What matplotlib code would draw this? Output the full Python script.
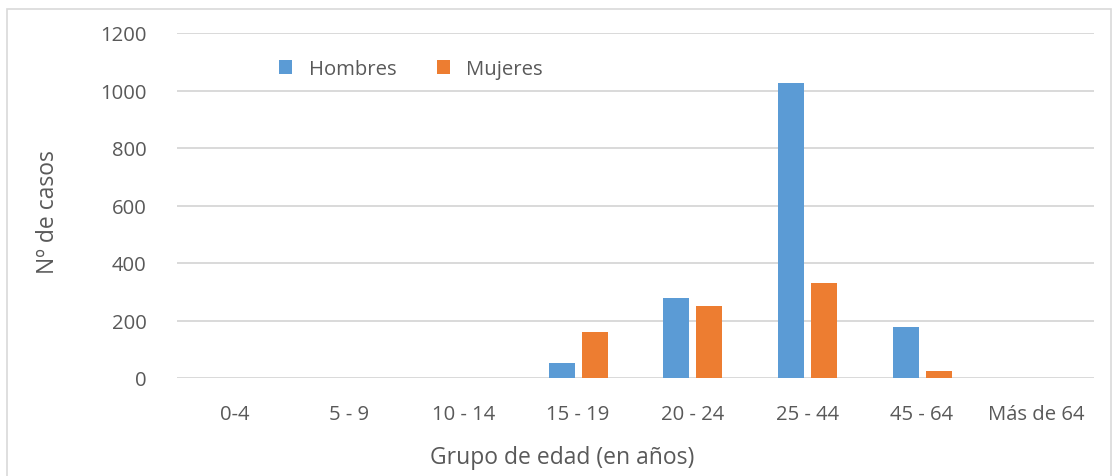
import matplotlib
matplotlib.use("Agg")
import matplotlib.pyplot as plt
import numpy as np
from matplotlib.patches import Rectangle

categories = ["0-4", "5 - 9", "10 - 14", "15 - 19", "20 - 24", "25 - 44", "45 - 64", "Más de 64"]
hombres = [0, 0, 0, 52, 280, 1025, 178, 0]
mujeres = [0, 0, 0, 160, 251, 330, 24, 0]
yticks = [0, 200, 400, 600, 800, 1000, 1200]

blue = "#5b9bd5"
orange = "#ed7d31"
text_color = "#595959"
grid_color = "#d9d9d9"

plt.rcParams["font.family"] = ["Open Sans", "DejaVu Sans"]

fig = plt.figure(figsize=(11.15, 4.77), dpi=100)
ax = fig.add_axes([177 / 1115, 1 - 379 / 477, (1094 - 177) / 1115, (379 - 34) / 477])

x = np.arange(len(categories))
w = 0.227
off = 0.1435
ax.bar(x - off, hombres, w, color=blue, label="Hombres", zorder=3)
ax.bar(x + off, mujeres, w, color=orange, label="Mujeres", zorder=3)

ax.set_xlim(-0.5, len(categories) - 0.5)
ax.set_ylim(0, 1200)
ax.set_yticks(yticks)
ax.set_yticklabels([str(v) for v in yticks])
ax.set_xticks(x)
ax.set_xticklabels(categories)
ax.tick_params(axis="both", length=0, labelsize=14.6, colors=text_color)
ax.tick_params(axis="y", pad=22)
ax.tick_params(axis="x", pad=19)
ax.grid(axis="y", color=grid_color, linewidth=1.4, zorder=0)
for s in ax.spines.values():
    s.set_visible(False)

# axis titles centred on the chart area
fig.text(48 / 1115, 1 - 212 / 477, "Nº de casos", rotation=90, fontsize=16.5,
         color=text_color, ha="center", va="center")
fig.text(562 / 1115, 1 - 458 / 477, "Grupo de edad (en años)", fontsize=16.5,
         color=text_color, ha="center", va="center")

leg = ax.legend(loc="upper left", bbox_to_anchor=(261 / 1115, 1 - 42 / 477),
                bbox_transform=fig.transFigure, ncol=2, frameon=False,
                fontsize=14.6, handlelength=0.65, handleheight=0.65,
                columnspacing=2.0, handletextpad=0.8)
for t in leg.get_texts():
    t.set_color(text_color)

# chart frame
fig.patches.append(Rectangle((7 / 1115, -0.1), (1111 - 7) / 1115, 1.1 - 10 / 477,
                             transform=fig.transFigure, fill=False,
                             edgecolor=grid_color, linewidth=1.2))

fig.savefig("out.png", dpi=100)
